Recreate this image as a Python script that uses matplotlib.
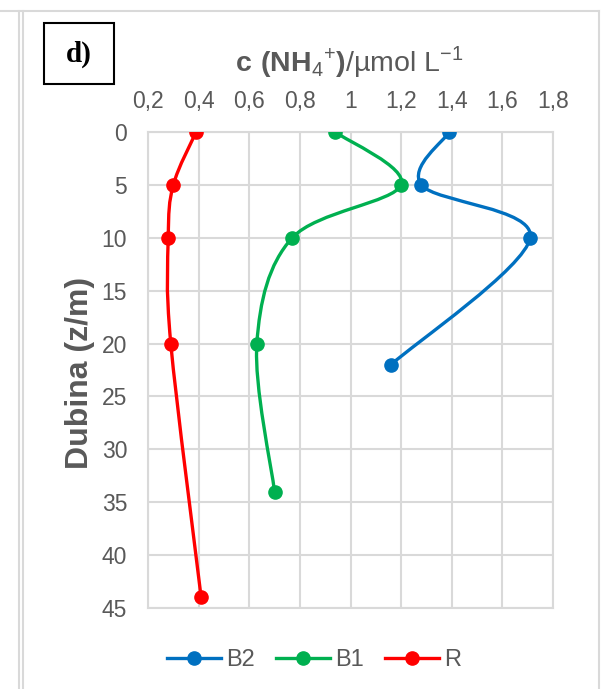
#!/usr/bin/env python3

"""Ammonium depth profiles (panel d) redrawn with Excel-like smoothed lines."""

import matplotlib
matplotlib.use('Agg')
import matplotlib.pyplot as plt
from matplotlib.lines import Line2D
from matplotlib.patches import PathPatch, Rectangle
from matplotlib.path import Path
from matplotlib.ticker import FuncFormatter, MultipleLocator

# depth (m) and c(NH4+) (umol/L) per station
b2_depth = [0, 5, 10, 22]
b2_conc = [1.39, 1.28, 1.71, 1.16]
b1_depth = [0, 5, 10, 20, 34]
b1_conc = [0.94, 1.20, 0.77, 0.63, 0.70]
r_depth = [0, 5, 10, 20, 44]
r_conc = [0.39, 0.30, 0.28, 0.29, 0.41]

series = [('B2', b2_conc, b2_depth, '#0070C0'),
          ('B1', b1_conc, b1_depth, '#00B050'),
          ('R', r_conc, r_depth, '#FF0000')]

GRAY = '#595959'
GRID = '#D9D9D9'

plt.rcParams['font.family'] = ['Liberation Sans', 'DejaVu Sans']
plt.rcParams['mathtext.fontset'] = 'custom'
plt.rcParams['mathtext.rm'] = 'Liberation Sans'
plt.rcParams['mathtext.bf'] = 'Liberation Sans:bold'


def smooth_path(xs, ys):
    """Bezier path through the points, like Excel's 'smoothed line'."""
    pts = list(zip(xs, ys))
    verts = [pts[0]]
    codes = [Path.MOVETO]
    n = len(pts)
    for i in range(n - 1):
        p0 = pts[max(i - 1, 0)]
        p1 = pts[i]
        p2 = pts[i + 1]
        p3 = pts[min(i + 2, n - 1)]
        c1 = (p1[0] + (p2[0] - p0[0]) / 6., p1[1] + (p2[1] - p0[1]) / 6.)
        c2 = (p2[0] - (p3[0] - p1[0]) / 6., p2[1] - (p3[1] - p1[1]) / 6.)
        verts += [c1, c2, p2]
        codes += [Path.CURVE4] * 3
    return Path(verts, codes)


fig = plt.figure(figsize=(6.01, 6.89), dpi=100)
W, H = 601., 689.
ax = fig.add_axes([148 / W, 1 - 608 / H, 405 / W, 476 / H])

handles = []
for name, conc, depth, color in series:
    ax.add_patch(PathPatch(smooth_path(conc, depth), facecolor='none',
                           edgecolor=color, lw=2.4, zorder=3,
                           capstyle='round', joinstyle='round'))
    ax.plot(conc, depth, ls='none', marker='o', ms=9.5, color=color, zorder=4)
    handles.append(Line2D([], [], color=color, lw=2.4, marker='o', ms=9.5,
                          label=name))

ax.set_xlim(0.2, 1.8)
ax.set_ylim(45, 0)
ax.xaxis.set_major_locator(MultipleLocator(0.2))
ax.yaxis.set_major_locator(MultipleLocator(5))
ax.xaxis.set_major_formatter(FuncFormatter(
    lambda v, p: ('%g' % round(v, 1)).replace('.', ',')))
ax.xaxis.tick_top()
ax.tick_params(length=0, labelsize=16.5, labelcolor=GRAY)
ax.tick_params(axis='x', pad=14)
ax.tick_params(axis='y', pad=15)
ax.grid(True, color=GRID, lw=1.5)
ax.set_axisbelow(True)
for s in ax.spines.values():
    s.set_color(GRID)
    s.set_linewidth(1.5)

fig.text(349 / W, 1 - 62 / H,
         r'$\mathbf{c\ (NH}_{4}{}^{+}\mathbf{)}$/µmol L$^{-1}$',
         ha='center', va='center', fontsize=20.5, color=GRAY)
fig.text(80 / W, 1 - 373 / H, 'Dubina (z/m)', rotation=90,
         ha='center', va='center', fontsize=23, fontweight='bold', color=GRAY)

# "d)" label box
fig.patches.append(Rectangle((44 / W, 1 - 84 / H), 70 / W, 61 / H,
                             transform=fig.transFigure, fill=False,
                             edgecolor='black', lw=1.5))
fig.text(79 / W, 1 - 54 / H, 'd)', ha='center', va='center', fontsize=21,
         fontweight='bold', family=['Liberation Serif', 'DejaVu Serif'])

# table cell borders around the chart
for xs, ys in [([0, 599], [10.5, 10.5]), ([18.5, 18.5], [10.5, 689]),
               ([22.5, 22.5], [10.5, 689]), ([599, 599], [10.5, 689])]:
    fig.add_artist(Line2D([x / W for x in xs], [1 - y / H for y in ys],
                          color=GRID, lw=1.5))

fig.legend(handles=handles, loc='center', bbox_to_anchor=(314 / W, 1 - 660 / H),
           ncol=3, frameon=False, fontsize=17, labelcolor=GRAY,
           handlelength=2.3, handletextpad=0.2, columnspacing=0.9)

fig.savefig('out.png', dpi=100)
